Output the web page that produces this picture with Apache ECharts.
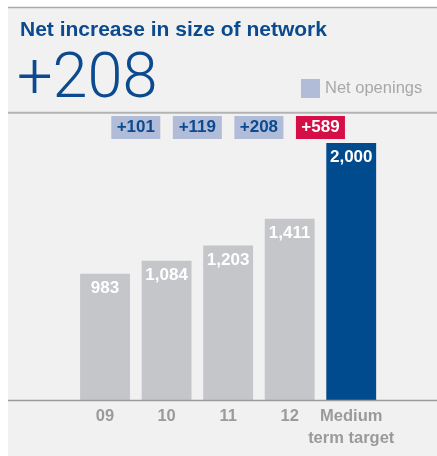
<!DOCTYPE html>
<html>
<head>
<meta charset="utf-8">
<script src="https://cdn.jsdelivr.net/npm/echarts@6/dist/echarts.min.js"></script>
<style>
html,body{margin:0;padding:0;background:#fff;}
#c{width:437px;height:456px;}
</style>
</head>
<body>
<div id="c"></div>
<script>
var categories = ['09', '10', '11', '12', 'Medium\nterm target'];
var networkSize = [983, 1084, 1203, 1411, 2000];
var netOpenings = [101, 119, 208, 589];
var headline = '+208';
var titleText = 'Net increase in size of network';

var chart = echarts.init(document.getElementById('c'), null, {renderer: 'canvas'});
var BLUE = '#004b8d';
var GREY = '#c5c6c9';
var LIGHTBLUE = '#b0bcd8';
var RED = '#d50e48';
var FONT = '"Liberation Sans", Arial, Helvetica, sans-serif';

var barData = networkSize.map(function (v, i) {
  var last = i === networkSize.length - 1;
  return {value: v, itemStyle: {color: last ? BLUE : GREY}};
});
var labelRow = 0.922;
var openData = netOpenings.map(function (v, i) {
  var last = i === netOpenings.length - 1;
  return {
    value: [i + 1, labelRow, v],
    itemStyle: {color: last ? RED : LIGHTBLUE, opacity: 1},
    label: {color: last ? '#ffffff' : '#0b4a8e'}
  };
});

chart.setOption({
  backgroundColor: '#ffffff',
  animation: false,
  title: [
    {text: titleText, left: 20, top: 20, padding: 0,
     textStyle: {color: '#0b4a8e', fontFamily: FONT, fontWeight: 'bold', fontSize: 21}},
    {text: headline, left: 17, top: 50, padding: 0,
     textStyle: {color: '#0b4a8e', fontFamily: 'Roboto', fontWeight: 300, fontSize: 63}}
  ],
  legend: {
    data: ['Net openings'], left: 301, top: 79, padding: 0,
    itemWidth: 19, itemHeight: 19, icon: 'rect',
    itemStyle: {opacity: 1},
    textStyle: {color: '#a8a8a8', fontFamily: FONT, fontSize: 16.5}
  },
  graphic: [
    {type: 'rect', z: -10, shape: {x: 8, y: 7, width: 429, height: 449}, style: {fill: '#f1f1f1'}},
    {type: 'line', z: -5, shape: {x1: 8, y1: 7.5, x2: 437, y2: 7.5}, style: {stroke: '#aaaaaa', lineWidth: 1.5}},
    {type: 'line', z: -5, shape: {x1: 8, y1: 112.8, x2: 437, y2: 112.8}, style: {stroke: '#b3b3b3', lineWidth: 2}},
    {type: 'line', z: 5, shape: {x1: 8, y1: 400.5, x2: 437, y2: 400.5}, style: {stroke: '#9a9a9a', lineWidth: 1.5}}
  ],
  grid: {left: 74.25, right: 55, bottom: 56, top: 104.4},
  xAxis: [
    {type: 'category', data: categories,
     axisLine: {show: false}, axisTick: {show: false},
     axisLabel: {color: '#9a9a9a', fontFamily: FONT, fontWeight: 'bold', fontSize: 16.5,
                 lineHeight: 22, margin: 5, interval: 0}},
    {type: 'value', min: 0, max: 5, show: false}
  ],
  yAxis: [
    {type: 'value', min: 0, max: 2300, show: false, splitLine: {show: false}},
    {type: 'value', min: 0, max: 1, show: false, splitLine: {show: false}}
  ],
  series: [
    {type: 'bar', data: barData, barCategoryGap: '19%', xAxisIndex: 0, yAxisIndex: 0,
     label: {show: true, position: 'insideTop', distance: 6, color: '#ffffff',
             fontFamily: FONT, fontWeight: 'bold', fontSize: 17,
             formatter: function (p) { return p.value.toLocaleString('en-US'); }}},
    {name: 'Net openings', type: 'scatter', xAxisIndex: 1, yAxisIndex: 1,
     symbol: 'rect', symbolSize: [49, 23], data: openData,
     itemStyle: {color: LIGHTBLUE, opacity: 1},
     label: {show: true, position: 'inside', fontFamily: FONT, fontWeight: 'bold', fontSize: 17,
             formatter: function (p) { return '+' + p.value[2]; }}}
  ]
});
</script>
</body>
</html>
